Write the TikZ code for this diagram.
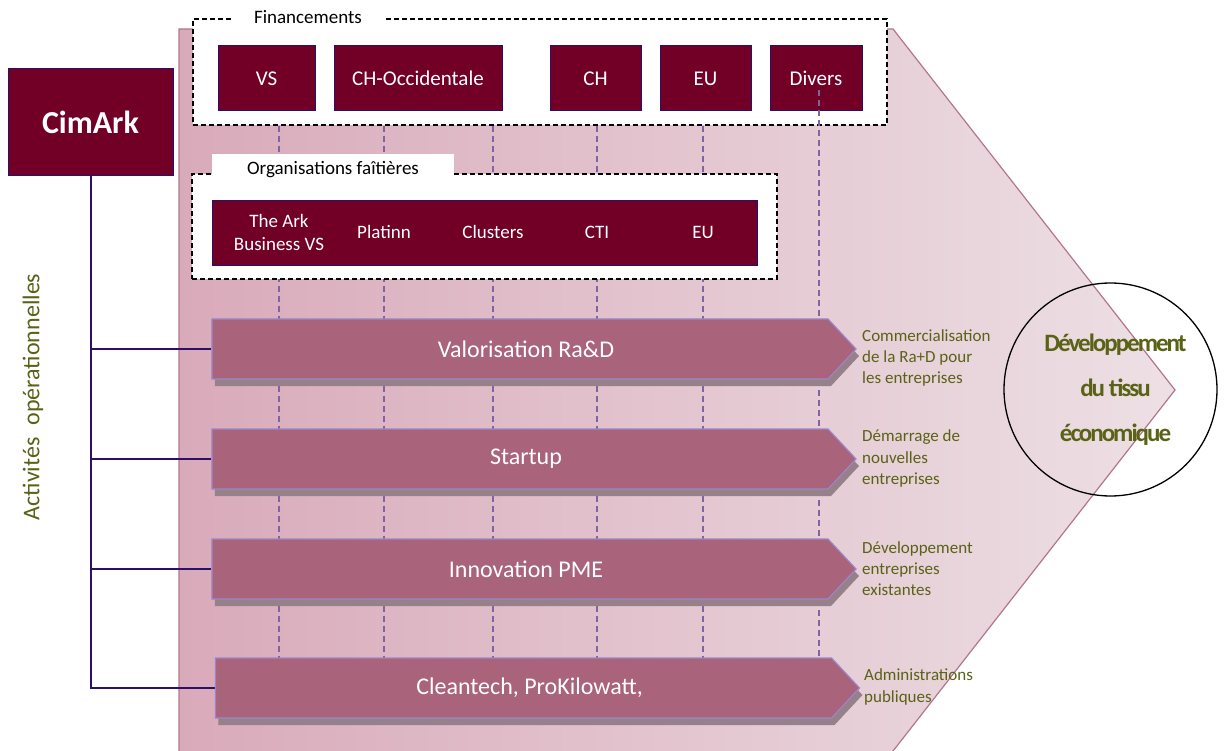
\documentclass[tikz,border=0pt]{standalone}
\usepackage{fontspec}
\setmainfont{Carlito}
\usepackage{tikz}
\usetikzlibrary{arrows.meta,shapes.symbols,shadows,positioning}
\definecolor{bordeaux}{RGB}{114,0,38}
\definecolor{encre}{RGB}{45,15,105}
\definecolor{mauve}{RGB}{169,99,122}
\definecolor{lilas}{RGB}{155,135,200}
\definecolor{ombre}{RGB}{150,128,137}
\definecolor{violet}{RGB}{128,100,162}
\definecolor{olive}{RGB}{90,98,22}
\definecolor{rosefonce}{RGB}{217,170,186}
\definecolor{roseclair}{RGB}{237,224,229}
\definecolor{bordrose}{RGB}{178,118,140}
\newcommand{\fs}[2]{\fontsize{#1}{#2}\selectfont}
\pgfdeclarelayer{fond}
\pgfdeclarelayer{arriere}
\pgfdeclarelayer{avant}
\pgfsetlayers{fond,arriere,main,avant}

\begin{document}
\begin{tikzpicture}[x=1pt,y=-1pt,>=Stealth,every node/.style={font=\fs{19}{23}}]
  \tikzset{boite/.style={draw=encre,line width=1pt,fill=bordeaux,text=white,inner sep=0pt,
                         minimum height=65pt,font=\fs{21}{24}},
           cadre/.style={draw=black,line width=1.3pt,dash pattern=on 5pt off 3pt,fill=white,inner sep=0pt},
           fleche/.style={signal,signal to=east,signal pointer angle=94,draw=lilas,line width=1.2pt,
                          fill=mauve,text=white,inner sep=0pt,minimum width=644pt,minimum height=60pt,
                          font=\fs{24}{28},execute at begin node={\hspace*{12pt}},
                          drop shadow={shadow xshift=3pt,shadow yshift=-7pt,fill=ombre,opacity=1}},
           tiret/.style={draw=violet,line width=1.3pt,dash pattern=on 6pt off 4pt},
           lien/.style={draw=encre,line width=2pt},
           effet/.style={text=olive,align=left,anchor=west,inner sep=0pt,font=\fs{17}{21.3}}}
  \useasboundingbox (0,0) rectangle (1224,751);

  % CimArk
  \node[boite,minimum width=165pt,minimum height=107pt,font=\fs{32}{36}\bfseries] (cimark) at (90.5,122.5) {CimArk};

  % financements
  \node[cadre,minimum width=694pt,minimum height=106pt] (fin) at (540,72) {};
  \node[fill=white,inner sep=0pt,minimum width=153pt,minimum height=14pt] (titrefin) at (308,17) {Financements};
  \node[boite,minimum width=97pt] (vs) at (266.5,78.5) {VS};
  \node[boite,minimum width=168pt] (chocc) at (418,78.5) {CH-Occidentale};
  \node[boite,minimum width=91pt] (ch) at (595.5,78.5) {CH};
  \node[boite,minimum width=91pt] (eu) at (705.5,78.5) {EU};
  \node[boite,minimum width=92pt] (divers) at (816,78.5) {Divers};

  % organisations faitieres
  \node[cadre,minimum width=585pt,minimum height=105pt] (org) at (484.5,226.5) {};
  \node[fill=white,inner sep=0pt,minimum width=242pt,minimum height=32pt] (titreorg) at (333,170) {Organisations faîtières};
  \node[boite,minimum width=545pt] (barre) at (484.5,233.5) {};
  \node[text=white,align=center] (ark) at (279,232) {The Ark\\Business VS};
  \node[text=white] (platinn) at (384,232) {Platinn};
  \node[text=white] (clusters) at (493,232) {Clusters};
  \node[text=white] (cti) at (597,232) {CTI};
  \node[text=white] (euorg) at (703,232) {EU};

  % activites
  \begin{pgfonlayer}{avant}
    \node[fleche] (act1) at (520,349) {Valorisation Ra\&D};
    \node[fleche] (act2) at (520,459) {Startup};
    \node[fleche] (act3) at (520,569) {Innovation PME};
    \node[fleche] (act4) at (523.5,688) {Cleantech, ProKilowatt,};
  \end{pgfonlayer}

  \node[effet] (eff1) at (862,358) {Commercialisation\\de la Ra+D pour\\les entreprises};
  \node[effet] (eff2) at (862,458.5) {Démarrage de\\nouvelles\\entreprises};
  \node[effet] (eff3) at (862,568.5) {Développement\\entreprises\\existantes};
  \node[effet] (eff4) at (864,687) {Administrations\\publiques};

  \node[draw=black,line width=1.3pt,circle,minimum size=213pt,inner sep=0pt,text=olive,align=center,
        font=\fs{25}{45}\bfseries\addfontfeature{LetterSpace=-8}] (tissu) at (1110.5,389.5)
        {\hspace*{10pt}Développement\\\hspace*{10pt}du tissu\\\hspace*{10pt}économique};

  \node[rotate=90,text=olive,font=\fs{24}{28}] (activ) at (33,397) {Activités\hspace{12pt}opérationnelles};

  % grande fleche de fond
  \begin{pgfonlayer}{fond}
    \shade[left color=rosefonce,right color=roseclair] (179,29) -- (893,29) -- (1175,390) -- (886,760) -- (179,760) -- cycle;
    \draw[bordrose,line width=1.2pt] (179,760) -- (179,29) -- (893,29) -- (1175,390) -- (886,760);
  \end{pgfonlayer}

  % colonnes
  \begin{pgfonlayer}{arriere}
    \foreach \c in {ark,platinn,clusters,cti,euorg}
      \draw[tiret] (\c |- fin.south) -- (\c |- act4.center);
  \end{pgfonlayer}
  \coordinate (tetediv) at (819,90);
  \draw[tiret] (tetediv) -- (tetediv |- act4.center);

  % liens CimArk
  \draw[lien] (cimark.south) -- (cimark.south |- act4.west) -- (act4.west);
  \foreach \a in {act1,act2,act3}
    \draw[lien] (cimark.south |- \a.west) -- (\a.west);
\end{tikzpicture}
\end{document}
